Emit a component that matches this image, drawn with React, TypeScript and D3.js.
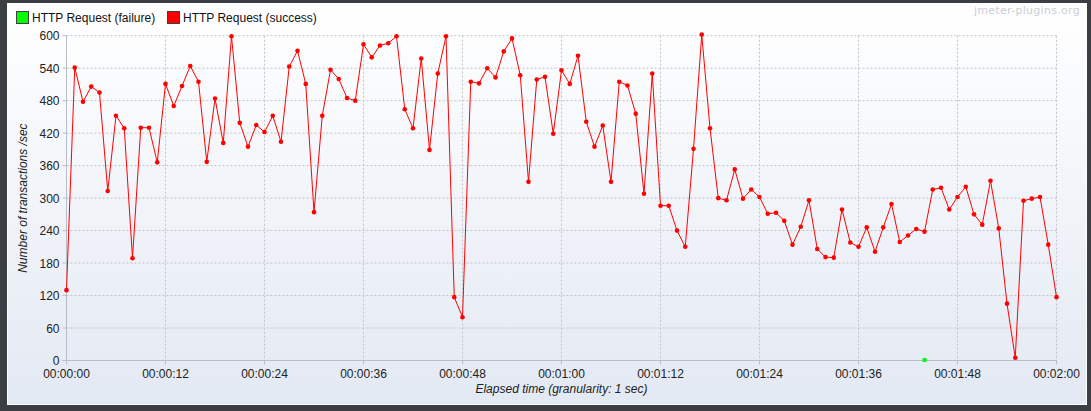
import React from "react";
import * as d3 from "d3";

const seconds: number[] = d3.range(0, 121);
const successValues: number[] = [
  130, 541, 478, 506, 495, 313, 452, 429, 189, 430,
  430, 366, 511, 470, 507, 544, 515, 367, 484, 402,
  599, 439, 395, 435, 422, 452, 404, 543, 572, 511,
  274, 452, 537, 520, 485, 480, 584, 560, 582, 586,
  599, 464, 429, 558, 389, 530, 599, 117, 80, 515,
  512, 540, 523, 571, 595, 527, 330, 519, 524, 419,
  536, 511, 563, 441, 395, 434, 330, 515, 508, 456,
  308, 530, 286, 286, 240, 210, 391, 602, 429, 300,
  296, 353, 299, 316, 302, 271, 273, 258, 214, 247,
  296, 206, 191, 190, 279, 218, 210, 246, 201, 246,
  289, 219, 231, 243, 238, 316, 319, 279, 302, 321,
  270, 251, 332, 244, 105, 5, 295, 299, 302, 214,
  117,
];
const failureSeconds: number[] = [104];
const failureValues: number[] = [1];
const yTicks: number[] = [0, 60, 120, 180, 240, 300, 360, 420, 480, 540, 600];
const xTicks: number[] = [0, 12, 24, 36, 48, 60, 72, 84, 96, 108, 120];
const legendLabels: string[] = ["HTTP Request (failure)", "HTTP Request (success)"];
const legendColors: string[] = ["#00ff00", "#ff0000"];

const W = 1091;
const H = 411;
const M = { left: 66.5, right: 1056.5, top: 35.7, bottom: 360.5 };

function fmt(s: number): string {
  const h = Math.floor(s / 3600);
  const m = Math.floor((s % 3600) / 60);
  const sec = s % 60;
  const p = (n: number) => String(n).padStart(2, "0");
  return `${p(h)}:${p(m)}:${p(sec)}`;
}

export default function App() {
  const x = d3.scaleLinear().domain([0, 120]).range([M.left, M.right]);
  const y = d3.scaleLinear().domain([0, 600]).range([M.bottom, M.top]);
  const line = d3
    .line<number>()
    .x((_, i) => x(seconds[i]))
    .y((d) => y(d));
  const font = "'Liberation Sans', Arial, sans-serif";
  const legendW = [0, 151];

  return (
    <svg
      width={W}
      height={H}
      style={{ position: "absolute", left: 0, top: 0, display: "block" }}
      fontFamily={font}
    >
      <defs>
        <linearGradient id="bg" x1="0" y1="0" x2="0" y2="1">
          <stop offset="0" stopColor="#ffffff" />
          <stop offset="1" stopColor="#e3e9f3" />
        </linearGradient>
      </defs>
      <rect x={0} y={0} width={W} height={H} fill="#3b3e42" />
      <rect x={7} y={3} width={1080} height={402} fill="#ffffff" />
      <rect x={8} y={4} width={1078} height={400} fill="url(#bg)" />
      {/* watermark */}
      <text x={1080} y={14} textAnchor="end" fontSize={11} fill="#c9cdd6" fontFamily="'DejaVu Sans', sans-serif" letterSpacing={0.3}>
        jmeter-plugins.org
      </text>
      {/* legend */}
      {legendLabels.map((l, i) => (
        <g key={l} transform={`translate(${16 + legendW[i]},11)`}>
          <rect x={0.5} y={0.5} width={12} height={12} fill={legendColors[i]} stroke="#404040" strokeWidth={1} />
          <text x={16} y={11} fontSize={12} fill="#111">
            {l}
          </text>
        </g>
      ))}
      {/* grid */}
      {yTicks.map((t) => (
        <line key={"gy" + t} x1={M.left} x2={M.right} y1={y(t)} y2={y(t)} stroke="#c0c3c8" strokeDasharray="2,2" strokeWidth={1} />
      ))}
      {xTicks.map((t) => (
        <line key={"gx" + t} x1={x(t)} x2={x(t)} y1={M.top} y2={M.bottom} stroke="#c0c3c8" strokeDasharray="2,2" strokeWidth={1} />
      ))}
      {/* axes */}
      <line x1={M.left} x2={M.left} y1={M.top} y2={M.bottom} stroke="#b7bec9" />
      <line x1={M.left} x2={M.right} y1={M.bottom} y2={M.bottom} stroke="#b7bec9" />
      {yTicks.map((t) => (
        <g key={"ty" + t}>
          <line x1={M.left - 4} x2={M.left} y1={y(t)} y2={y(t)} stroke="#b7bec9" />
          <text x={M.left - 7} y={y(t) + 4.5} textAnchor="end" fontSize={12} fill="#222">
            {t}
          </text>
        </g>
      ))}
      {xTicks.map((t) => (
        <g key={"tx" + t}>
          <line x1={x(t)} x2={x(t)} y1={M.bottom} y2={M.bottom + 4} stroke="#b7bec9" />
          <text x={x(t)} y={378} textAnchor="middle" fontSize={12} fill="#222">
            {fmt(t)}
          </text>
        </g>
      ))}
      <text x={(M.left + M.right) / 2} y={393} textAnchor="middle" fontSize={12} fontStyle="italic" fill="#222">
        Elapsed time (granularity: 1 sec)
      </text>
      <text
        transform={`translate(27,${(M.top + M.bottom) / 2}) rotate(-90)`}
        textAnchor="middle"
        fontSize={12}
        fontStyle="italic"
        fill="#222"
      >
        Number of transactions /sec
      </text>
      {/* series */}
      <path d={line(successValues) || ""} fill="none" stroke="#ff0000" strokeWidth={1} />
      {successValues.map((v, i) => (
        <circle key={"s" + i} cx={x(seconds[i])} cy={y(v)} r={2.3} fill="#ff0000" />
      ))}
      {failureValues.map((v, i) => (
        <circle key={"f" + i} cx={x(failureSeconds[i])} cy={y(v)} r={2.3} fill="#00ff00" />
      ))}
    </svg>
  );
}
